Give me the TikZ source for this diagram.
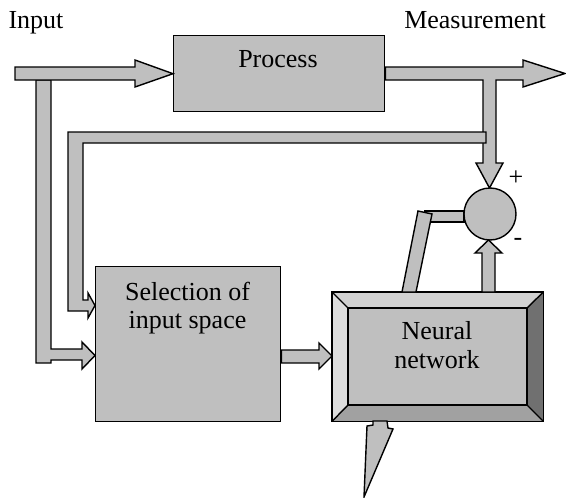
\documentclass[tikz,border=0pt]{standalone}
\usepackage{fontspec}
\setmainfont{Liberation Serif}
\begin{document}
\begin{tikzpicture}[x=1pt,y=-1pt,
  outline/.style={draw=black,line width=1.4pt,line join=miter},
  boxnode/.style={block,rectangle,inner sep=0pt,anchor=north west},
  txt/.style={font=\fontsize{26}{29}\selectfont,inner sep=0pt,anchor=base}]
\colorlet{blockgray}{black!25}
\tikzset{block/.style={outline,fill=blockgray}}
\useasboundingbox (0,0) rectangle (566,498);

% --- Signal labels ---
\node[txt] (inlabel) at (36,28) {Input};
\node[txt] (measlabel) at (475,28) {Measurement};

% --- Process block ---
\node[boxnode,minimum width=211pt,minimum height=76pt] (proc) at (173,35) {};
\node[txt] (proctxt) at (278,67) {Process};

% --- Selection of input space ---
\node[boxnode,minimum width=185pt,minimum height=155pt] (sel) at (95,266) {};
\node[txt] (seltxt1) at (187.5,300) {Selection of};
\node[txt] (seltxt2) at (187.5,328) {input space};

% --- Input branch: vertical bar down to the selection block ---
\draw[block] (51,80) -- (36,80) -- (36,363) -- (51,363) -- (51,360) -- (82,360)
  -- (82,369) -- (sel.west |- 0,355.5) -- (82,342) -- (82,349) -- (51,349) -- cycle;

% --- Input arrow into the process ---
\draw[block] (15,67) -- (135,67) -- (135,60) -- (proc.west) -- (135,87)
  -- (135,80) -- (15,80) -- cycle;

% --- Measurement arrow with branch down to the comparator ---
\coordinate (sumtop) at (489.5,188);
\draw[block] (proc.east |- 0,67) -- (523,67) -- (523,60) -- (565,73.5) -- (523,87)
  -- (523,80) -- (496,80) -- (496,163) -- (503,163) -- (sumtop) -- (476,163)
  -- (483,163) -- (483,80) -- (proc.east |- 0,80) -- cycle;

% --- Feedback of the input into the selection block ---
\draw[block] (486,132) -- (68,132) -- (68,311) -- (88,311) -- (88,318)
  -- (sel.west |- 0,305.5) -- (88,293) -- (88,300) -- (83,300) -- (83,143)
  -- (486,143) -- cycle;

% --- Neural network (bevelled block) ---
\node[rectangle,inner sep=0pt,anchor=north west,minimum width=211pt,minimum height=129pt] (nn) at (332,292) {};
\fill[black!18] (332,292) -- (543,292) -- (527,308) -- (348,308) -- cycle;
\fill[black!13] (332,292) -- (348,308) -- (348,405) -- (332,421) -- cycle;
\fill[black!56] (543,292) -- (543,421) -- (527,405) -- (527,308) -- cycle;
\fill[black!37] (332,421) -- (543,421) -- (527,405) -- (348,405) -- cycle;
\draw[outline,fill=blockgray] (348,308) rectangle (527,405);
\draw[outline] (nn.north west) -- (348,308) (nn.north east) -- (527,308)
  (nn.south west) -- (348,405) (nn.south east) -- (527,405);
\draw[outline] (nn.north west) rectangle (nn.south east);
\node[txt] (nntxt1) at (437,339) {Neural};
\node[txt] (nntxt2) at (437,368) {network};

% --- Selection to neural network ---
\draw[block] (sel.east |- 0,350) -- (319,350) -- (319,343) -- (nn.west |- 0,356)
  -- (319,369) -- (319,363) -- (sel.east |- 0,363) -- cycle;

% --- Network output back to the comparator ---
\draw[block] (425,211) rectangle (464,222);
\draw[block] (402,292) -- (418,211) -- (432,214) -- (416,292) -- cycle;
\coordinate (sumbot) at (488.5,240);
\draw[block] (482,292) -- (482,253) -- (475,253) -- (sumbot) -- (502,253)
  -- (495,253) -- (495,292) -- cycle;

% --- Comparator ---
\node[block,circle,minimum size=52pt,inner sep=0pt] (sum) at (490,214) {};
\node[txt,anchor=center] (plus) at (516,178) {+};
\node[txt,anchor=center] (minus) at (518,242) {-};

% --- Network output arrow ---
\draw[block] (373,421) -- (373,425) -- (367,426) -- (364,497) -- (393,429)
  -- (388,428) -- (387,421) -- cycle;
\end{tikzpicture}
\end{document}
